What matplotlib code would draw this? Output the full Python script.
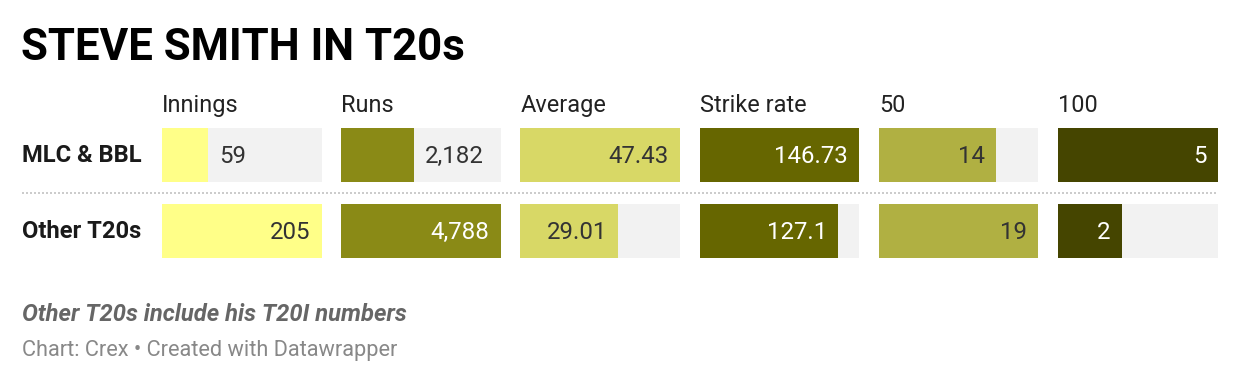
import matplotlib
matplotlib.use("Agg")
import matplotlib.pyplot as plt
from matplotlib.lines import Line2D

# ---- data ----
rows = ["MLC & BBL", "Other T20s"]
columns = ["Innings", "Runs", "Average", "Strike rate", "50", "100"]
innings = [59, 205]
runs = [2182, 4788]
average = [47.43, 29.01]
strike_rate = [146.73, 127.1]
fifties = [14, 19]
hundreds = [5, 2]
value_labels = [
    ["59", "205"],
    ["2,182", "4,788"],
    ["47.43", "29.01"],
    ["146.73", "127.1"],
    ["14", "19"],
    ["5", "2"],
]
title = "STEVE SMITH IN T20s"
note = "Other T20s include his T20I numbers"
credit = "Chart: Crex \u2022 Created with Datawrapper"

series = [innings, runs, average, strike_rate, fifties, hundreds]
colors = ["#ffff88", "#8a8a16", "#d8d866", "#666600", "#b0b042", "#454500"]
text_colors = ["#333333", "#ffffff", "#333333", "#ffffff", "#333333", "#ffffff"]

W, H = 1240, 382
DPI = 100
fig = plt.figure(figsize=(W / DPI, H / DPI), dpi=DPI)
fig.patch.set_facecolor("white")
FONT = "Roboto"

def px(v):
    return v * 72.0 / DPI

def fx(x):
    return x / W

def fy(y):
    return 1 - y / H

# Title
fig.text(fx(21), fy(60), title, fontsize=px(43.8), fontweight="bold",
         family=FONT, color="#000000", va="baseline", ha="left")

# Table geometry (pixels)
col_left0 = 162
col_pitch = 179.2
col_w = 159.5
top = 128
bar_px = 54
pitch_px = 76
h = bar_px / pitch_px
n = len(rows)
axes_h = (n - 1) * pitch_px + bar_px
VAL_FS = px(24)

fig.canvas.draw()
renderer = fig.canvas.get_renderer()

for i, (col, vals) in enumerate(zip(columns, series)):
    left = col_left0 + i * col_pitch
    ax = fig.add_axes([fx(left), fy(top + axes_h), col_w / W, axes_h / H])
    vmax = max(vals)
    ypos = list(range(n))
    ax.barh(ypos, [vmax] * n, height=h, color="#f2f2f2", linewidth=0)
    ax.barh(ypos, vals, height=h, color=colors[i], linewidth=0)
    ax.set_xlim(0, vmax)
    ax.set_ylim(n - 1 + h / 2, -h / 2)
    ax.axis("off")
    # header
    fig.text(fx(left), fy(112), col, fontsize=px(23.5), family=FONT,
             color="#222222", va="baseline", ha="left")
    for r, v in enumerate(vals):
        lab = value_labels[i][r]
        t = ax.text(0, r, lab, fontsize=VAL_FS, family=FONT, va="center")
        tw = t.get_window_extent(renderer=renderer).width
        t.remove()
        bar_w = v / vmax * col_w
        pad_data = 11 / col_w * vmax
        if bar_w >= tw + 25:
            ax.text(v - pad_data, r + 0.02, lab, fontsize=VAL_FS, family=FONT,
                    va="center", ha="right", color=text_colors[i])
        else:
            ax.text(v + pad_data, r + 0.02, lab, fontsize=VAL_FS, family=FONT,
                    va="center", ha="left", color="#333333")

# Row labels
for r, name in enumerate(rows):
    yc = top + r * pitch_px + bar_px / 2
    fig.text(fx(22), fy(yc + 1), name, fontsize=px(23.7), fontweight="bold",
             family=FONT, color="#1a1a1a", va="center", ha="left")

# dotted separator
fig.add_artist(Line2D([fx(22), fx(1218)], [fy(192.7), fy(192.7)],
                      transform=fig.transFigure, color="#cccccc",
                      linewidth=px(2), linestyle=(0, (1, 1))))

# footer
fig.text(fx(22), fy(321), note, fontsize=px(23.7), fontweight="bold",
         fontstyle="italic", family=FONT, color="#666666",
         va="baseline", ha="left")
fig.text(fx(22), fy(356), credit, fontsize=px(21.8), family=FONT,
         color="#888888", va="baseline", ha="left")

fig.savefig("out.png", dpi=DPI, facecolor="white")
